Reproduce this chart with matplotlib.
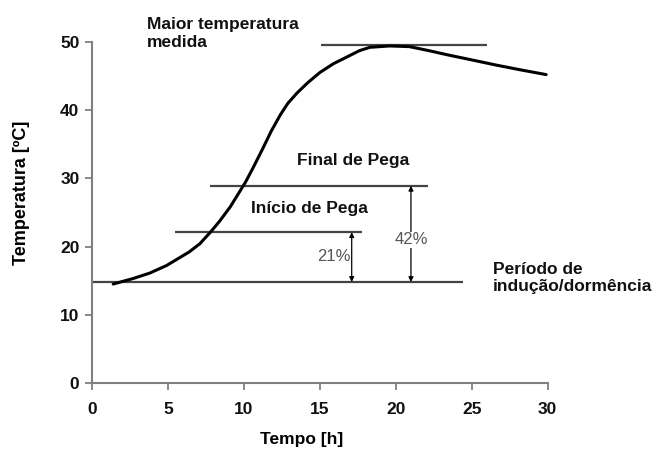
import matplotlib
matplotlib.use("Agg")
import matplotlib.pyplot as plt

plt.rcParams['font.family'] = ['Liberation Sans', 'DejaVu Sans']

# Curve
tempo = [1.4, 2.7, 3.8, 4.9, 6.4, 7.1, 7.8, 8.4, 9.1, 9.6, 10.1, 10.6,
         11.3, 11.8, 12.4, 12.9, 13.5, 14.2, 15.0, 15.9, 16.8, 17.6, 18.3,
         19.6, 20.9, 22.2, 23.4, 24.9, 26.6, 28.2, 29.9]
temperatura = [14.5, 15.3, 16.1, 17.2, 19.2, 20.4, 22.1, 23.7, 25.8, 27.6,
               29.4, 31.5, 34.6, 36.9, 39.3, 41.0, 42.5, 44.0, 45.5, 46.8,
               47.8, 48.7, 49.2, 49.4, 49.3, 48.7, 48.1, 47.4, 46.6, 45.9, 45.2]

# Reference levels: (y, x_start, x_end)
inducao = (14.8, 0.0, 24.4)
inicio_pega = (22.1, 5.5, 17.8)
final_pega = (28.9, 7.8, 22.1)
maior_temp = (49.5, 15.1, 26.0)

x_ticks = [0, 5, 10, 15, 20, 25, 30]
y_ticks = [0, 10, 20, 30, 40, 50]

fig = plt.figure(figsize=(6.52, 4.5), dpi=100)
ax = fig.add_axes([0.141, 0.149, 0.699, 0.758])

for y, x0, x1 in (inducao, inicio_pega, final_pega, maior_temp):
    ax.hlines(y, x0, x1, color='#444444', lw=1.6, clip_on=False)

ax.plot(tempo, temperatura, color='black', lw=2.2, clip_on=False,
        solid_capstyle='round', solid_joinstyle='round')

# double arrows with percentage labels
arrow = dict(arrowstyle='<|-|>', color='black', lw=0.9,
             mutation_scale=7, shrinkA=0, shrinkB=0)
ax.annotate('', xy=(17.1, inicio_pega[0]), xytext=(17.1, inducao[0]),
            arrowprops=arrow)
ax.annotate('', xy=(21.0, final_pega[0]), xytext=(21.0, inducao[0]),
            arrowprops=arrow)
ax.text(15.9, 18.6, '21%', color='#555555', fontsize=12, ha='center',
        va='center', bbox=dict(facecolor='white', edgecolor='none', pad=0.5))
ax.text(21.0, 21.0, '42%', color='#555555', fontsize=12, ha='center',
        va='center', bbox=dict(facecolor='white', edgecolor='none', pad=0.5))

bold = dict(fontsize=12.5, fontweight='bold', color='#111111')
ax.text(3.6, 51.2, 'Maior temperatura\nmedida', ha='left', va='center',
        linespacing=1.2, clip_on=False, **bold)
ax.text(17.2, 32.6, 'Final de Pega', ha='center', va='center', **bold)
ax.text(14.3, 25.6, 'Início de Pega', ha='center', va='center', **bold)
ax.text(26.4, 15.4, 'Período de\nindução/dormência', ha='left', va='center',
        linespacing=1.2, clip_on=False, **bold)

ax.set_xlim(0, 30)
ax.set_ylim(0, 50)
ax.set_xticks(x_ticks)
ax.set_yticks(y_ticks)
ax.tick_params(labelsize=12.5, colors='#808080', labelcolor='#111111',
               length=5, width=1.3)
for lbl in ax.get_xticklabels() + ax.get_yticklabels():
    lbl.set_fontweight('bold')
ax.tick_params(axis='x', pad=9)
ax.tick_params(axis='y', pad=4)

for side in ('top', 'right'):
    ax.spines[side].set_visible(False)
for side in ('left', 'bottom'):
    ax.spines[side].set_color('#808080')
    ax.spines[side].set_linewidth(1.5)

ax.set_xlabel('Tempo [h]', fontsize=12.5, fontweight='bold')
ax.set_ylabel('Temperatura [ºC]', fontsize=13, fontweight='bold')
ax.xaxis.set_label_coords(0.46, -0.145)
ax.yaxis.set_label_coords(-0.136, 0.557)

fig.savefig('out.png', dpi=100, facecolor='white')
